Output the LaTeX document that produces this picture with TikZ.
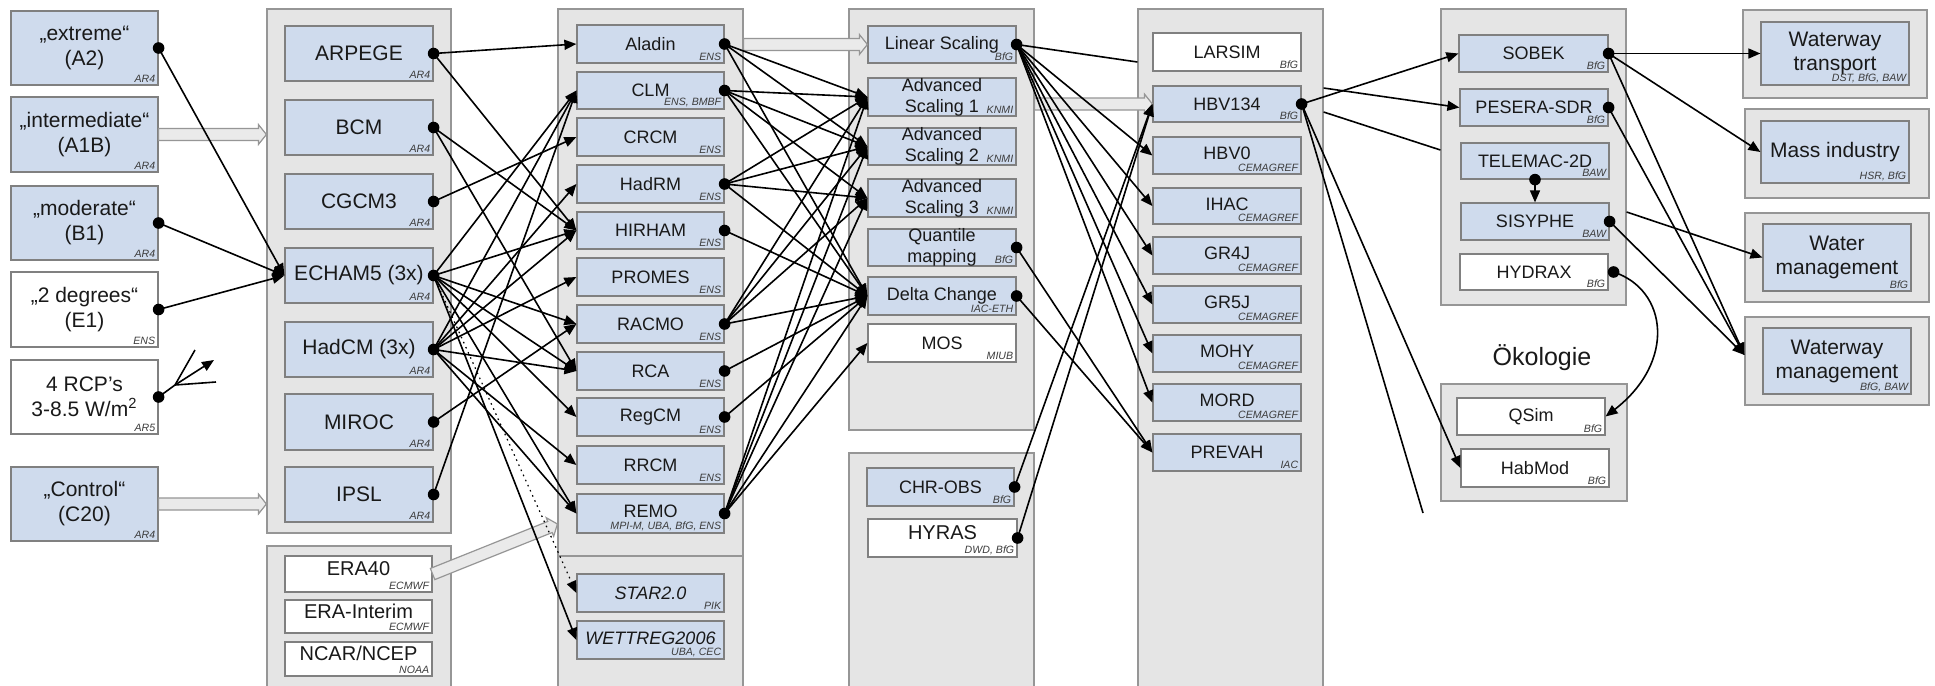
\documentclass[tikz,border=0pt]{standalone}
\usepackage{fontspec}
\setmainfont{Liberation Sans}
\usetikzlibrary{arrows.meta,fit,calc}
\definecolor{boxblue}{RGB}{207,219,237}
\definecolor{boxline}{RGB}{128,128,128}
\definecolor{grpfill}{RGB}{229,229,229}
\definecolor{grpline}{RGB}{150,150,150}
\definecolor{txt}{RGB}{25,25,25}
\definecolor{subtxt}{RGB}{60,60,60}
\definecolor{barfill}{RGB}{234,234,234}
\tikzset{
  grp/.style={draw=grpline, fill=grpfill, line width=0.6pt, inner sep=0pt, rectangle},
  bbox/.style={draw=boxline, fill=boxblue, line width=0.6pt, inner sep=0pt, rectangle},
  wbox/.style={draw=boxline, fill=white, line width=0.6pt, inner sep=0pt, rectangle},
  lbl/.style={text=txt, align=center, inner sep=0pt, font=\fontsize{9}{10.5}\selectfont},
  bigl/.style={font=\fontsize{10.5}{12.5}\selectfont},
  rean/.style={font=\fontsize{10}{12}\selectfont, yshift=2.6pt},
  usr/.style={font=\fontsize{10.5}{12}\selectfont},
  sub/.style={text=subtxt, inner sep=0pt, font=\fontsize{5.3}{6}\selectfont\itshape},
  conn/.style={draw=black, line width=0.8pt, -{Triangle[length=6pt,width=5pt]}},
  pline/.style={draw=black, line width=0.8pt},
  barrow/.style={draw=grpline, fill=barfill, line width=0.6pt},
}
\newcommand\mkbox[9]{%
  \node[#6, fit={(#2,#3) (#4,#5)}] (#1) {};
  \node[lbl,#7] (#1-t) at (#1.center) {#8};
  \node[sub, anchor=south east] (#1-s) at ([xshift=-1.5pt,yshift=1.2pt]#1.south east) {#9};
}
\newcommand\barr[2]{%
  \coordinate (bhd) at ($(#2)!4pt!(#1)$);
  \draw[barrow] ($(#1)!3pt!90:(#2)$) -- ($(bhd)!3pt!90:(#2)$) -- ($(bhd)!5pt!90:(#2)$) -- (#2)
     -- ($(bhd)!5pt!-90:(#2)$) -- ($(bhd)!3pt!-90:(#2)$) -- ($(#1)!3pt!-90:(#2)$) -- cycle;
}
\begin{document}
\begin{tikzpicture}[x=0.5pt,y=-0.5pt]
\useasboundingbox (0,0) rectangle (1935,686);
\clip (0,0) rectangle (1935,686);
\fill[white] (0,0) rectangle (1935,686);
% ---------------- groups
\node[grp, fit={(267,9) (451,533)}] (gGCM) {};
\node[grp, fit={(267,546) (451,700)}] (gRea) {};
\node[grp, fit={(558,9) (743,556)}] (gRCM) {};
\node[grp, fit={(558,556) (743,700)}] (gESD) {};
\node[grp, fit={(849,9) (1034,430)}] (gBC) {};
\node[grp, fit={(849,453) (1034,700)}] (gObs) {};
\node[grp, fit={(1138,9) (1323,700)}] (gHyd) {};
\node[grp, fit={(1441,9) (1626,305)}] (gHydr) {};
\node[grp, fit={(1441,384) (1627,501)}] (gOek) {};
\node[grp, fit={(1743,10) (1927,98)}] (gWT) {};
\node[grp, fit={(1745,109) (1929,198)}] (gMI) {};
\node[grp, fit={(1745,213) (1929,302)}] (gWM) {};
\node[grp, fit={(1745,317) (1929,405)}] (gWWM) {};
% ---------------- scenarios
\mkbox{sA2}{11}{11}{158}{85}{bbox}{bigl}{„extreme“\\(A2)}{AR4}
\mkbox{sA1B}{11}{97}{158}{172}{bbox}{bigl}{„intermediate“\\(A1B)}{AR4}
\mkbox{sB1}{11}{186}{158}{260}{bbox}{bigl}{„moderate“\\(B1)}{AR4}
\mkbox{sE1}{11}{272}{158}{347}{wbox}{bigl}{„2 degrees“\\(E1)}{ENS}
\mkbox{sRCP}{11}{360}{158}{434}{wbox}{bigl}{4 RCP’s\\3-8.5 W/m\textsuperscript{2}}{AR5}
\mkbox{sC20}{11}{467}{158}{541}{bbox}{bigl}{„Control“\\(C20)}{AR4}
% ---------------- GCMs
\mkbox{ARPEGE}{285}{26}{433}{81}{bbox}{bigl}{ARPEGE}{AR4}
\mkbox{BCM}{285}{100}{433}{155}{bbox}{bigl}{BCM}{AR4}
\mkbox{CGCM3}{285}{174}{433}{229}{bbox}{bigl}{CGCM3}{AR4}
\mkbox{ECHAM5}{285}{248}{433}{303}{bbox}{bigl}{ECHAM5 (3x)}{AR4}
\mkbox{HadCM}{285}{322}{433}{377}{bbox}{bigl}{HadCM (3x)}{AR4}
\mkbox{MIROC}{285}{394}{433}{450}{bbox}{bigl}{MIROC}{AR4}
\mkbox{IPSL}{285}{467}{433}{522}{bbox}{bigl}{IPSL}{AR4}
% ---------------- reanalyses
\mkbox{ERA40}{285}{556}{432}{592}{wbox}{rean}{ERA40}{ECMWF}
\mkbox{ERAI}{285}{600}{432}{633}{wbox}{rean}{ERA-Interim}{ECMWF}
\mkbox{NCAR}{285}{642}{432}{676}{wbox}{rean}{NCAR/NCEP}{NOAA}
% ---------------- RCMs
\mkbox{Aladin}{577}{25}{724}{63}{bbox}{}{Aladin}{ENS}
\mkbox{CLM}{577}{72}{724}{109}{bbox}{}{CLM}{ENS, BMBF}
\mkbox{CRCM}{577}{118}{724}{156}{bbox}{}{CRCM}{ENS}
\mkbox{HadRM}{577}{165}{724}{203}{bbox}{}{HadRM}{ENS}
\mkbox{HIRHAM}{577}{212}{724}{249}{bbox}{}{HIRHAM}{ENS}
\mkbox{PROMES}{577}{258}{724}{296}{bbox}{}{PROMES}{ENS}
\mkbox{RACMO}{577}{305}{724}{343}{bbox}{}{RACMO}{ENS}
\mkbox{RCA}{577}{352}{724}{390}{bbox}{}{RCA}{ENS}
\mkbox{RegCM}{577}{398}{724}{436}{bbox}{}{RegCM}{ENS}
\mkbox{RRCM}{577}{446}{724}{484}{bbox}{}{RRCM}{ENS}
\mkbox{REMO}{577}{494}{724}{533}{bbox}{yshift=1pt}{REMO}{MPI-M, UBA, BfG, ENS}
\mkbox{STAR}{577}{574}{724}{612}{bbox}{}{\itshape STAR2.0}{PIK}
\mkbox{WETTREG}{577}{621}{724}{659}{bbox}{yshift=1pt}{\itshape WETTREG2006}{UBA, CEC}
% ---------------- bias correction
\mkbox{LinS}{868}{26}{1016}{63}{bbox}{}{Linear Scaling}{BfG}
\mkbox{AS1}{868}{78}{1016}{116}{bbox}{}{Advanced\\Scaling 1}{KNMI}
\mkbox{AS2}{868}{128}{1016}{165}{bbox}{}{Advanced\\Scaling 2}{KNMI}
\mkbox{AS3}{868}{179}{1016}{217}{bbox}{}{Advanced\\Scaling 3}{KNMI}
\mkbox{QM}{868}{229}{1016}{266}{bbox}{}{Quantile\\mapping}{BfG}
\mkbox{DC}{868}{277}{1016}{315}{bbox}{}{Delta Change}{IAC-ETH}
\mkbox{MOS}{868}{324}{1016}{362}{wbox}{}{MOS}{MIUB}
\mkbox{CHR}{867}{468}{1014}{506}{bbox}{}{CHR-OBS}{BfG}
\mkbox{HYRAS}{868}{519}{1017}{557}{wbox}{rean}{HYRAS}{DWD, BfG}
% ---------------- hydrology
\mkbox{LARSIM}{1153}{33}{1301}{71}{wbox}{}{LARSIM}{BfG}
\mkbox{HBV134}{1153}{86}{1301}{122}{bbox}{}{HBV134}{BfG}
\mkbox{HBV0}{1153}{137}{1301}{174}{bbox}{yshift=1pt}{HBV0}{CEMAGREF}
\mkbox{IHAC}{1153}{188}{1301}{224}{bbox}{yshift=1pt}{IHAC}{CEMAGREF}
\mkbox{GR4J}{1153}{237}{1301}{274}{bbox}{yshift=1pt}{GR4J}{CEMAGREF}
\mkbox{GR5J}{1153}{286}{1301}{323}{bbox}{yshift=1pt}{GR5J}{CEMAGREF}
\mkbox{MOHY}{1153}{335}{1301}{372}{bbox}{yshift=1pt}{MOHY}{CEMAGREF}
\mkbox{MORD}{1153}{384}{1301}{421}{bbox}{yshift=1pt}{MORD}{CEMAGREF}
\mkbox{PREVAH}{1153}{434}{1301}{471}{bbox}{}{PREVAH}{IAC}
% ---------------- hydraulics
\mkbox{SOBEK}{1459}{35}{1608}{72}{bbox}{}{SOBEK}{BfG}
\mkbox{PESERA}{1460}{89}{1608}{126}{bbox}{}{PESERA-SDR}{BfG}
\mkbox{TELEMAC}{1461}{143}{1609}{179}{bbox}{}{TELEMAC-2D}{BAW}
\mkbox{SISYPHE}{1461}{203}{1609}{240}{bbox}{}{SISYPHE}{BAW}
\mkbox{HYDRAX}{1460}{254}{1608}{290}{wbox}{}{HYDRAX}{BfG}
% ---------------- ecology
\node[text=txt, inner sep=0pt, font=\fontsize{12.5}{14}\selectfont] (oekLbl) at (1542,358) {Ökologie};
\mkbox{QSim}{1457}{398}{1605}{435}{wbox}{}{QSim}{BfG}
\mkbox{HabMod}{1461}{449}{1609}{487}{wbox}{}{HabMod}{BfG}
% ---------------- users
\mkbox{WT}{1761}{22}{1909}{85}{bbox}{usr}{Waterway\\transport}{DST, BfG, BAW}
\mkbox{MI}{1761}{121}{1909}{183}{bbox}{usr}{Mass industry}{HSR, BfG}
\mkbox{WM}{1763}{224}{1911}{291}{bbox}{usr}{Water\\management}{BfG}
\mkbox{WWM}{1763}{328}{1911}{394}{bbox}{usr}{Waterway\\management}{BfG, BAW}
% ---------------- block arrows
\coordinate (y524) at (0,524);
\coordinate (a1bS) at (sA1B.east); \coordinate (a1bE) at (sA1B.east -| gGCM.west);
\coordinate (c20S) at (sC20.east); \coordinate (c20E) at (sC20.east -| gGCM.west);
\coordinate (eraS) at (ERA40.east); \coordinate (eraE) at (gRCM.west |- y524);
\coordinate (lsS) at (gRCM.east |- LinS.west); \coordinate (lsE) at (LinS.west);
\coordinate (hbS) at (gBC.east |- HBV134.west); \coordinate (hbE) at (HBV134.west);
\barr{a1bS}{a1bE}
\barr{c20S}{c20E}
\barr{eraS}{eraE}
\barr{lsS}{lsE}
\barr{hbS}{hbE}
% ---------------- helper coordinates
\coordinate (y62) at (0,62);   \coordinate (hydL62) at (gHyd.west |- y62);
\coordinate (y88) at (0,88);   \coordinate (hydR88) at (gHyd.east |- y88);
\coordinate (y112) at (0,112); \coordinate (hydR112) at (gHyd.east |- y112);
\coordinate (y150) at (0,150); \coordinate (hydrL150) at (gHydr.west |- y150);
\coordinate (y212) at (0,212); \coordinate (hydrR212) at (gHydr.east |- y212);
\coordinate (y355) at (0,355); \coordinate (wwmIn) at (gWWM.west |- y355);
\coordinate (freeEnd) at (1423,513);
\coordinate (rcpB) at (175,385);
\coordinate (rcp1) at (195,350);
\coordinate (rcp2) at (214,360);
\coordinate (rcp3) at (216,382);
\coordinate (hxDot) at ([xshift=2.5pt]HYDRAX.east);
% ---------------- connectors
\foreach \s in {sA2,sB1,sE1} \draw[conn] (\s.east) -- (ECHAM5.west);
\draw[pline] (sRCP.east) -- (rcpB) -- (rcp1);
\draw[conn] (rcpB) -- (rcp2);
\draw[pline] (rcpB) -- (rcp3);
\foreach \s/\t in {ARPEGE/Aladin, ARPEGE/HIRHAM, BCM/HIRHAM, BCM/RCA, CGCM3/CRCM,
  ECHAM5/CLM, ECHAM5/HIRHAM, ECHAM5/RACMO, ECHAM5/RCA, ECHAM5/RegCM, ECHAM5/REMO, ECHAM5/WETTREG,
  HadCM/CLM, HadCM/HadRM, HadCM/HIRHAM, HadCM/PROMES, HadCM/RCA, HadCM/RRCM, HadCM/REMO,
  MIROC/RACMO, IPSL/CLM}
  \draw[conn] (\s.east) -- (\t.west);
\draw[conn, dotted, line width=0.6pt] (ECHAM5.east) -- (STAR.west);
\foreach \s/\t in {Aladin/AS1, Aladin/AS2, Aladin/DC, CLM/AS1, CLM/AS2, CLM/AS3, CLM/DC,
  HadRM/AS1, HadRM/AS2, HadRM/AS3, HadRM/DC, HIRHAM/DC, RACMO/AS1, RACMO/AS2, RACMO/AS3, RACMO/DC,
  RCA/DC, RegCM/DC, REMO/AS1, REMO/AS2, REMO/AS3, REMO/DC, REMO/MOS}
  \draw[conn] (\s.east) -- (\t.west);
\draw[pline] (LinS.east) -- (hydL62);
\foreach \s/\t in {LinS/HBV0, LinS/IHAC, LinS/GR4J, LinS/GR5J, LinS/MOHY, LinS/MORD,
  QM/PREVAH, DC/PREVAH, CHR/HBV134, HYRAS/HBV134, HBV134/SOBEK, HBV134/HabMod,
  SOBEK/WT, SOBEK/MI}
  \draw[conn] (\s.east) -- (\t.west);
\draw[pline] (HBV134.east) -- (freeEnd);
\draw[conn] (hydR88) -- (PESERA.west);
\draw[pline] (hydR112) -- (hydrL150);
\foreach \s in {SOBEK,PESERA,SISYPHE} \draw[conn] (\s.east) -- (wwmIn);
\draw[conn] (hydrR212) -- (WM.west);
\draw[conn] (TELEMAC.south) -- (SISYPHE.north);
\draw[conn] (hxDot) .. controls (1668,290) and (1676,362) .. (QSim.east);
% ---------------- dots
\foreach \n in {sA2,sB1,sE1,sRCP,ARPEGE,BCM,CGCM3,ECHAM5,HadCM,MIROC,IPSL,
  Aladin,CLM,HadRM,HIRHAM,RACMO,RCA,RegCM,REMO,LinS,QM,DC,CHR,HYRAS,HBV134,SOBEK,PESERA,SISYPHE}
  \fill (\n.east) circle[radius=2.9pt];
\fill (hxDot) circle[radius=2.9pt];
\fill (TELEMAC.south) circle[radius=2.9pt];
\end{tikzpicture}
\end{document}
